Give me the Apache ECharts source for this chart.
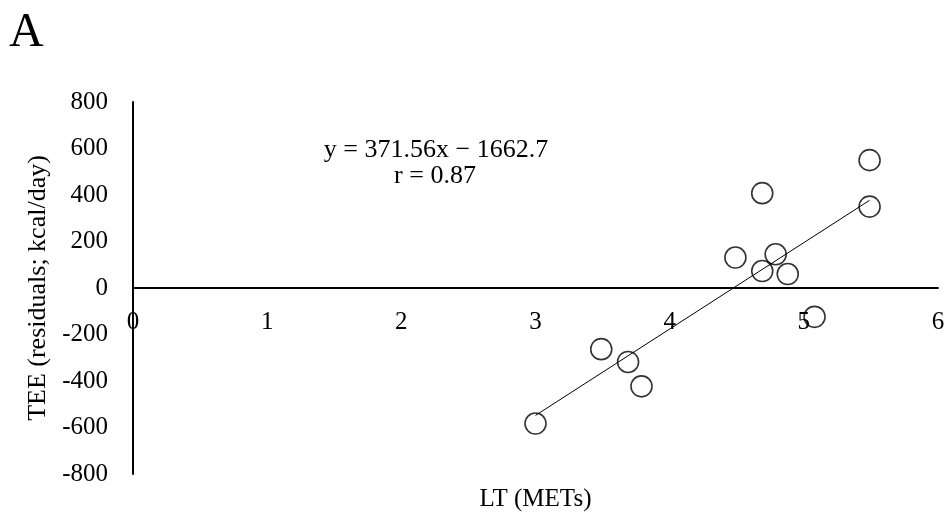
<!DOCTYPE html>
<html>
<head>
<meta charset="utf-8">
<script src="https://cdn.jsdelivr.net/npm/echarts@6/dist/echarts.min.js"></script>
<style>
html,body{margin:0;padding:0;background:#fff;}
#chart{width:945px;height:514px;}
</style>
</head>
<body>
<div id="chart"></div>
<script>
var ltMETs = [5.49, 5.49, 4.69, 4.49, 4.79, 4.69, 4.88, 5.08, 3.49, 3.69, 3.79, 3.00];
var teeResiduals = [550, 350, 408, 131, 145, 73, 60, -124, -263, -318, -423, -583];
var xTicks = [0, 1, 2, 3, 4, 5, 6];
var yTicks = [-800, -600, -400, -200, 0, 200, 400, 600, 800];
var slope = 371.56, intercept = -1662.7;
var fitRangeX = [3.0, 5.49];

var points = ltMETs.map(function (x, i) { return [x, teeResiduals[i]]; });
var fitLine = fitRangeX.map(function (x) { return [x, slope * x + intercept]; });

var font = 'Liberation Serif, Times New Roman, serif';
var chart = echarts.init(document.getElementById('chart'), null, {renderer: 'canvas'});
chart.setOption({
  animation: false,
  backgroundColor: '#fff',
  grid: {left: 133, right: 7, top: 102, bottom: 40, containLabel: false, outerBoundsMode: 'none'},
  title: [
    {text: 'A', left: 4, top: 4, textStyle: {fontFamily: font, fontSize: 48, fontWeight: 'normal', color: '#000'}},
    {text: 'y = 371.56x − 1662.7', left: 431, top: 132, textAlign: 'center', textStyle: {fontFamily: font, fontSize: 26, fontWeight: 'normal', color: '#000'}},
    {text: 'r = 0.87', left: 430, top: 158, textAlign: 'center', textStyle: {fontFamily: font, fontSize: 26, fontWeight: 'normal', color: '#000'}}
  ],
  xAxis: {
    type: 'value', min: xTicks[0], max: xTicks[xTicks.length - 1], interval: 1,
    name: 'LT (METs)', nameLocation: 'middle', nameGap: 13,
    nameTextStyle: {fontFamily: font, fontSize: 25, color: '#000'},
    axisLine: {show: true, onZero: true, lineStyle: {color: '#000', width: 2}},
    axisTick: {show: false},
    splitLine: {show: false},
    axisLabel: {fontFamily: font, fontSize: 25, color: '#000', margin: -152, verticalAlign: 'middle'}
  },
  yAxis: {
    type: 'value', min: yTicks[0], max: yTicks[yTicks.length - 1], interval: 200,
    name: 'TEE (residuals; kcal/day)', nameLocation: 'middle', nameGap: 80,
    nameTextStyle: {fontFamily: font, fontSize: 26, color: '#000'},
    axisLine: {show: true, onZero: false, lineStyle: {color: '#000', width: 2}},
    axisTick: {show: false},
    splitLine: {show: false},
    axisLabel: {fontFamily: font, fontSize: 25, color: '#000', margin: 25}
  },
  series: [
    {
      type: 'line', data: fitLine, showSymbol: false, symbol: 'none',
      lineStyle: {color: '#000', width: 1}, z: 1
    },
    {
      type: 'scatter', data: points, symbol: 'circle', symbolSize: 21,
      itemStyle: {color: 'rgba(0,0,0,0)', borderColor: '#000', borderWidth: 1.6}, z: 2
    }
  ]
});
</script>
</body>
</html>
